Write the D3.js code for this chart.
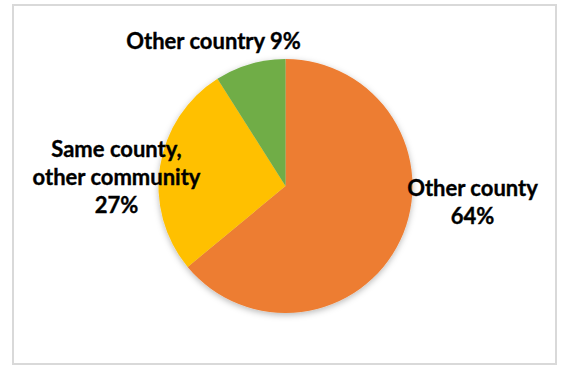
<!DOCTYPE html>
<html>
<head>
<meta charset="utf-8">
<script src="https://cdn.jsdelivr.net/npm/d3@7"></script>
<style>
  html, body { margin: 0; padding: 0; background: #ffffff; }
  svg { display: block; }
</style>
</head>
<body>
<svg id="chart" width="563" height="367"></svg>
<script>
// Where people moved from: share of respondents by origin
const categories = ["Other county", "Same county, other community", "Other country"];
const shares = [64, 27, 9];
const colors = ["#ED7D31", "#FFC000", "#70AD47"];
// Label text, one array of lines per slice
const labelLines = [
  ["Other county", "64%"],
  ["Same county,", "other community", "27%"],
  ["Other country 9%"]
];

const width = 563, height = 367;
const svg = d3.select("#chart");

// Chart frame
svg.append("rect")
  .attr("x", 13).attr("y", 5)
  .attr("width", 543).attr("height", 359)
  .attr("fill", "#ffffff")
  .attr("stroke", "#d9d9d9")
  .attr("stroke-width", 2);

// Soft shadow under the pie
const defs = svg.append("defs");
const f = defs.append("filter").attr("id", "pieShadow")
  .attr("x", "-20%").attr("y", "-20%").attr("width", "140%").attr("height", "140%");
f.append("feDropShadow")
  .attr("dx", 0).attr("dy", 2).attr("stdDeviation", 3)
  .attr("flood-color", "#000").attr("flood-opacity", 0.28);

const cx = 285.5, cy = 186, radius = 127;

const pie = d3.pie().sort(null).value(d => d)
  .startAngle(0).endAngle(2 * Math.PI);
const arc = d3.arc().innerRadius(0).outerRadius(radius);
const color = d3.scaleOrdinal().domain(categories).range(colors);

const g = svg.append("g").attr("transform", `translate(${cx},${cy})`);
const pieG = g.append("g").attr("filter", "url(#pieShadow)");

pieG.selectAll("path")
  .data(pie(shares))
  .join("path")
  .attr("d", arc)
  .attr("fill", (d, i) => color(categories[i]));

// Label anchors (centre of each text block, first baseline), relative to the pie centre
const labelAnchors = [
  { x: 187, y: 10 },
  { x: -169, y: -29 },
  { x: -72, y: -137 }
];
const lineHeight = 28;

const labels = svg.append("g")
  .attr("font-family", "Lato, 'Open Sans', sans-serif")
  .attr("font-weight", "bold")
  .attr("font-size", 22)
  .attr("fill", "#000000")
  .attr("stroke", "#000000")
  .attr("stroke-width", 0.35)
  .attr("text-anchor", "middle");

labelLines.forEach((lines, i) => {
  const t = labels.append("text")
    .attr("transform", `translate(${cx + labelAnchors[i].x},${cy + labelAnchors[i].y})`);
  lines.forEach((line, j) => {
    t.append("tspan").attr("x", 0).attr("y", j * lineHeight).text(line);
  });
});
</script>
</body>
</html>
